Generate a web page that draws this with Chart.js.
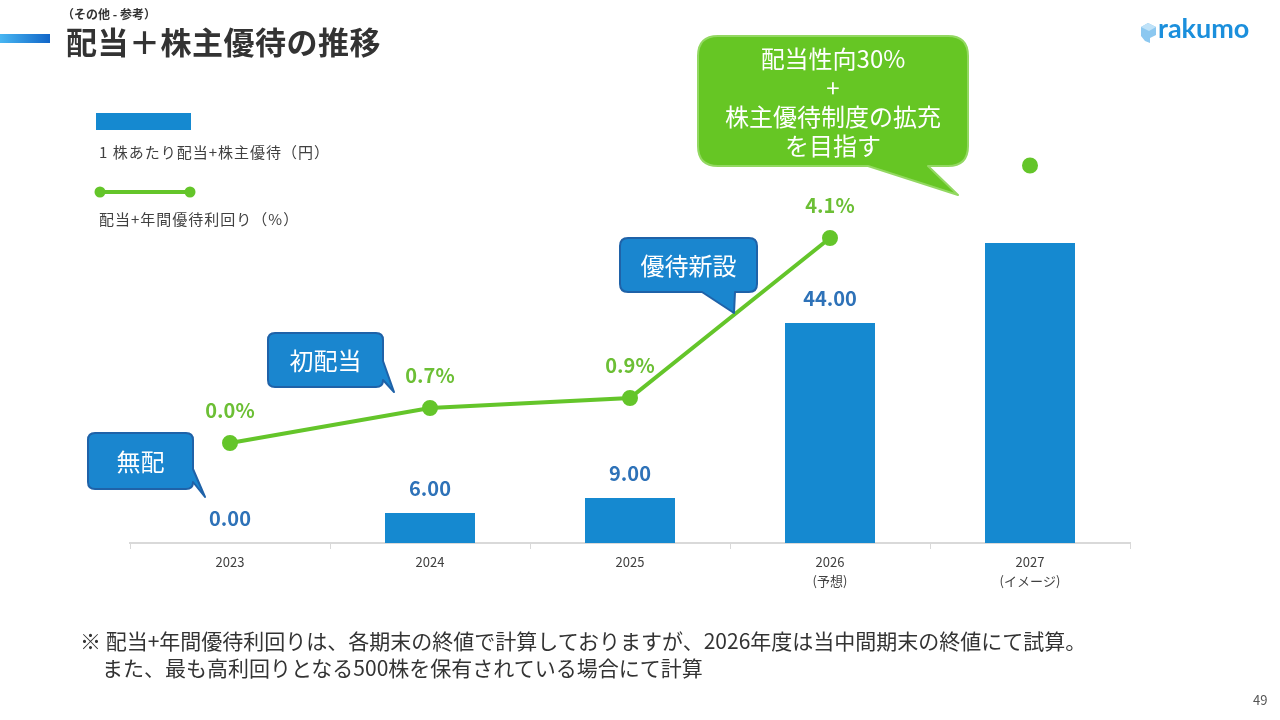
<!DOCTYPE html>
<html lang="ja">
<head>
<meta charset="utf-8">
<script src="https://cdn.jsdelivr.net/npm/chart.js@4/dist/chart.umd.min.js"></script>
<style>
  body { margin:0; width:1280px; height:720px; position:relative; overflow:hidden; background:#fff;
         font-family:"Noto Sans CJK JP","Noto Sans",sans-serif; color:#404040; }
  #c { position:absolute; left:0; top:0; }
  #deco { position:absolute; left:0; top:0; pointer-events:none; }
  .t { position:absolute; white-space:nowrap; }
  .bubble { position:absolute; color:#fff; text-align:center; display:flex; align-items:center; justify-content:center; }
</style>
</head>
<body>
<canvas id="c" width="1280" height="720"></canvas>
<svg id="deco" width="1280" height="720"></svg>

<!-- header -->
<div class="t" style="left:62px;top:5px;font-size:12px;font-weight:bold;color:#333;">（その他 - 参考）</div>
<div class="t" style="left:66px;top:18px;font-size:31px;font-weight:bold;color:#333;letter-spacing:0.5px;">配当＋株主優待の推移</div>
<div class="t" style="left:1158px;top:11px;font-size:27px;font-weight:bold;color:#1b8fdc;font-family:Lato,'Noto Sans',sans-serif;">rakumo</div>

<!-- legend -->
<div class="t" style="left:96px;top:113px;width:95px;height:17px;background:#1589d0;"></div>
<div class="t" style="left:99px;top:141px;font-size:15px;letter-spacing:1px;">1 株あたり配当+株主優待（円）</div>
<div class="t" style="left:99px;top:208px;font-size:15px;letter-spacing:1px;">配当+年間優待利回り（%）</div>

<!-- footnote -->
<div class="t" style="left:80px;top:625px;font-size:21px;color:#333;">※ 配当+年間優待利回りは、各期末の終値で計算しておりますが、2026年度は当中間期末の終値にて試算。</div>
<div class="t" style="left:102px;top:652px;font-size:21px;color:#333;">また、最も高利回りとなる500株を保有されている場合にて計算</div>
<div class="t" style="left:1253px;top:690px;font-size:13px;color:#555;">49</div>

<div id="bubbles"></div>

<script>
// ---- data ----
const categories = [['2023'], ['2024'], ['2025'], ['2026', '(予想)'], ['2027', '(イメージ)']];
const perShareYen = [0, 6, 9, 44, 60];
const yieldPct = [0.0, 0.7, 0.9, 4.1, 5.55];
const barLabels = ['0.00', '6.00', '9.00', '44.00', ''];
const yieldLabels = ['0.0%', '0.7%', '0.9%', '4.1%', ''];

const BAR_COLOR = '#1589d0';
const LINE_COLOR = '#64c52a';
const BAR_TEXT = '#2e72b8';
const LINE_TEXT = '#6cbf35';

// ---- decorations (callouts, header bar, legend line, logo mark) ----
// tail on the bottom edge: b1..b2 are x positions; on the right edge: y positions
function calloutPath(c) {
    const { x, y, w, h, r, side, b1, b2, tx, ty } = c;
    let d = `M${x + r},${y} H${x + w - r} Q${x + w},${y} ${x + w},${y + r}`;
    if (side === 'right') d += ` V${b1} L${tx},${ty} L${x + w},${b2}`;
    d += ` V${y + h - r} Q${x + w},${y + h} ${x + w - r},${y + h}`;
    if (side === 'bottom') d += ` H${b2} L${tx},${ty} L${b1},${y + h}`;
    d += ` H${x + r} Q${x},${y + h} ${x},${y + h - r} V${y + r} Q${x},${y} ${x + r},${y} Z`;
    return d;
}

const callouts = [
    { lines: ['無配'], x: 88, y: 433, w: 105, h: 56, r: 7, side: 'right', b1: 469, b2: 482, tx: 205, ty: 497, fill: '#1a86cf', stroke: '#1f62a8', size: 24 },
    { lines: ['初配当'], x: 268, y: 333, w: 115, h: 54, r: 7, side: 'right', b1: 361, b2: 380, tx: 394, ty: 392, fill: '#1a86cf', stroke: '#1f62a8', size: 24 },
    { lines: ['優待新設'], x: 620, y: 238, w: 137, h: 54, r: 8, side: 'bottom', b1: 702, b2: 735, tx: 734, ty: 313, fill: '#1a86cf', stroke: '#1f62a8', size: 24 },
    { lines: ['配当性向30%', '+', '株主優待制度の拡充', 'を目指す'], x: 698, y: 36, w: 270, h: 130, r: 20, side: 'bottom', b1: 868, b2: 928, tx: 958, ty: 195, fill: '#66c624', stroke: '#93d862', size: 24, lh: 29 }
];

const svg = document.getElementById('deco');
let svgHtml = `
  <defs><linearGradient id="hg" x1="0" x2="1" y1="0" y2="0">
    <stop offset="0" stop-color="#48b6f2"/><stop offset="1" stop-color="#1166c8"/></linearGradient></defs>
  <rect x="0" y="34" width="50" height="9" fill="url(#hg)"/>
  <line x1="100" y1="192" x2="190" y2="192" stroke="${LINE_COLOR}" stroke-width="4"/>
  <circle cx="100" cy="192" r="5.5" fill="${LINE_COLOR}"/><circle cx="190" cy="192" r="5.5" fill="${LINE_COLOR}"/>
  <polygon points="1141,27 1148,23 1156,27 1156,35 1150,38 1150,43 1145,41 1141,36" fill="#8cc8f0"/>
  <polygon points="1148,23 1156,27 1149,31 1141,27" fill="#bfe2f8"/>`;
callouts.forEach(c => {
    svgHtml += `<path d="${calloutPath(c)}" fill="${c.fill}" stroke="${c.stroke}" stroke-width="2" stroke-linejoin="round"/>`;
});
svg.innerHTML = svgHtml;

const bubbles = document.getElementById('bubbles');
callouts.forEach(c => {
    const d = document.createElement('div');
    d.className = 'bubble';
    d.style.cssText = `left:${c.x}px;top:${c.y}px;width:${c.w}px;height:${c.h}px;font-size:${c.size}px;line-height:${c.lh || c.h}px;flex-direction:column;`;
    d.innerHTML = c.lines.map(l => `<div>${l}</div>`).join('');
    bubbles.appendChild(d);
});

// ---- value labels ----
const valueLabels = {
    id: 'valueLabels',
    afterDatasetsDraw(chart) {
        const ctx = chart.ctx;
        ctx.save();
        ctx.textAlign = 'center';
        ctx.textBaseline = 'middle';
        ctx.font = 'bold 20px "Noto Sans CJK JP", sans-serif';
        chart.getDatasetMeta(0).data.forEach((el, i) => {
            if (!barLabels[i]) return;
            ctx.fillStyle = BAR_TEXT;
            ctx.fillText(barLabels[i], el.x, el.y - 25);
        });
        chart.getDatasetMeta(1).data.forEach((el, i) => {
            if (!yieldLabels[i]) return;
            ctx.fillStyle = LINE_TEXT;
            ctx.fillText(yieldLabels[i], el.x, el.y - 33);
        });
        ctx.restore();
    }
};

new Chart(document.getElementById('c'), {
    data: {
        labels: categories,
        datasets: [
            {
                type: 'bar',
                label: '1株あたり配当+株主優待（円）',
                data: perShareYen,
                backgroundColor: BAR_COLOR,
                yAxisID: 'yBar',
                categoryPercentage: 1,
                barPercentage: 0.45,
                order: 2
            },
            {
                type: 'line',
                label: '配当+年間優待利回り（%）',
                data: yieldPct,
                borderColor: LINE_COLOR,
                backgroundColor: LINE_COLOR,
                borderWidth: 4,
                pointRadius: 6,
                pointHoverRadius: 6,
                tension: 0,
                yAxisID: 'yLine',
                order: 1,
                segment: {
                    borderColor: c => c.p1DataIndex === 4 ? 'rgba(0,0,0,0)' : LINE_COLOR
                }
            }
        ]
    },
    options: {
        responsive: false,
        animation: false,
        layout: { padding: { left: 130, right: 150, top: 143, bottom: 117 } },
        plugins: { legend: { display: false }, tooltip: { enabled: false } },
        scales: {
            x: {
                grid: { drawOnChartArea: false, drawTicks: true, tickLength: 6, color: '#d9d9d9' },
                border: { color: '#d9d9d9', width: 2 },
                ticks: { color: '#404040', font: { size: 13, family: '"Noto Sans CJK JP", sans-serif', lineHeight: 1.5 }, padding: 3, maxRotation: 0 },
                afterFit: s => { s.height = 60; }
            },
            yBar: { display: false, min: 0, max: 80 },
            yLine: { display: false, min: -2, max: 6 }
        }
    },
    plugins: [valueLabels]
});
</script>
</body>
</html>
